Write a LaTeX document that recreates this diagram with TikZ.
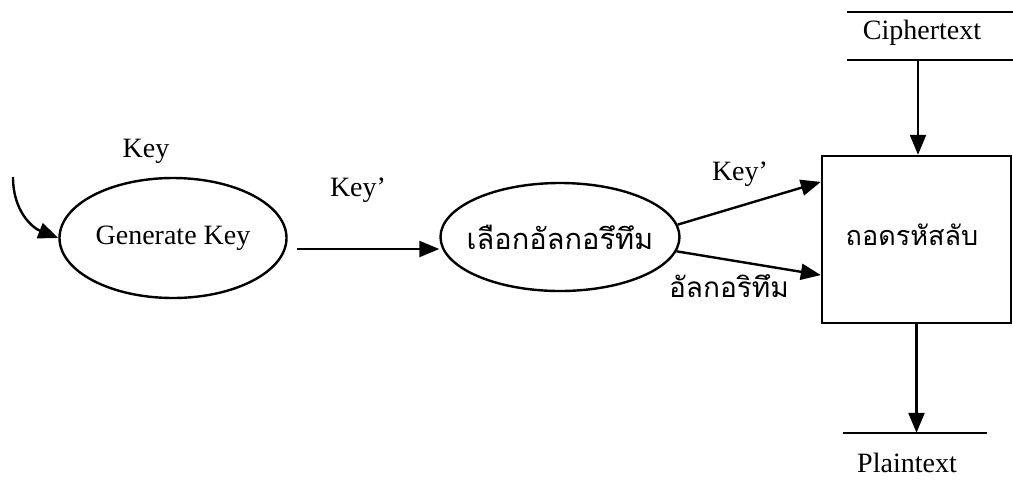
\documentclass[tikz,border=0pt]{standalone}
\usepackage{fontspec}
\setmainfont{Liberation Serif}
\newfontfamily\thaifont[Script=Thai]{Loma}
\usetikzlibrary{arrows.meta,shapes.geometric,calc}
\begin{document}
\begin{tikzpicture}[x=1pt,y=-1pt,
  every node/.style={font=\fontsize{28}{32}\selectfont},
  proc/.style={draw,line width=2.4pt,ellipse,inner sep=0pt},
  arr/.style={line width=2.4pt,-{Triangle[length=20pt,width=16pt]}},
  thai/.style={font=\thaifont\fontsize{29}{34}\selectfont},
  storeline/.style={line width=2.4pt}]
\useasboundingbox (0,0) rectangle (1013,491);
% processes
\node[proc,minimum width=227pt,minimum height=120pt] (gk) at (173,238) {Generate Key};
\node[proc,minimum width=239pt,minimum height=108pt,inner xsep=-30pt,inner ysep=-4pt,thai] (sel) at (560,237) {เลือกอัลกอรึทึม};
\node[draw,line width=2.4pt,minimum width=189pt,minimum height=167pt] (dec) at (916.5,239.5) {};
\node[thai,font=\thaifont\fontsize{27}{32}\selectfont] (dect) at (912,235) {ถอดรหัสลับ};
% data stores
\node[minimum width=166pt,minimum height=48pt,inner sep=0pt] (ct) at (930,36) {};
\node (ctt) at (922,33) {Ciphertext};
\draw[storeline] (ct.north west) -- (ct.north east);
\draw[storeline] (ct.south west) -- (ct.south east);
\node[minimum width=144pt,minimum height=60pt,inner sep=0pt] (pt) at (915,463) {};
\node (ptt) at (907,463) {Plaintext};
\draw[storeline] (pt.north west) -- (pt.north east);
% labels
\node (lkey) at (146,151) {Key};
\node (lkey1) at (358,190) {Key'};
\node (lkey2) at (740,174) {Key'};
\node[thai,font=\thaifont\fontsize{28}{32}\selectfont] (lalg) at (729,286) {อัลกอริทึม};
% connectors
\coordinate (src) at (13,177);
\draw[arr] (src) .. controls (13,212) and (33,228) .. (gk.west);
\coordinate (a1) at (297,249);
\draw[arr] (a1) -- (a1 -| sel.west);
\draw[arr] (sel.6) -- ($(dec.north west)!0.16!(dec.south west)$);
\draw[arr] (sel.-7) -- ($(dec.north west)!0.71!(dec.south west)$);
\draw[arr] (ct.south -| 918,0) -- (dec.north -| 918,0);
\draw[arr] (dec.south) -- (dec.south |- pt.north);
\end{tikzpicture}
\end{document}
